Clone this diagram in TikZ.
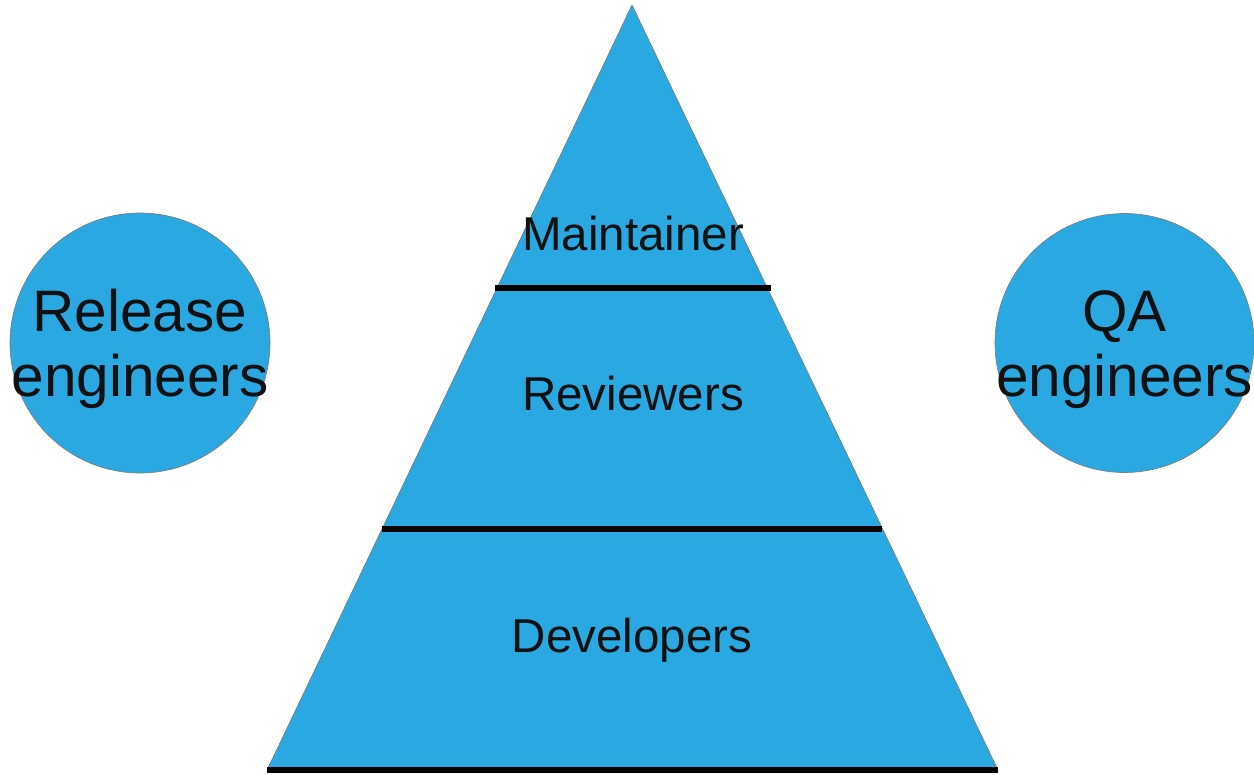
\documentclass[tikz,border=0pt]{standalone}
\usepackage{fontspec}
\setmainfont{Liberation Sans}
\definecolor{tribl}{HTML}{29A8E2}
\definecolor{txt}{HTML}{111111}
\definecolor{edge}{HTML}{7A7A7A}
\begin{document}
\begin{tikzpicture}[x=1pt,y=-1pt,
  shapefill/.style={fill=tribl,draw=edge,line width=0.6pt},
  tierline/.style={line width=6pt,black},
  tier/.style={anchor=base,inner sep=0pt,text=txt,font=\fontsize{47.5}{56}\selectfont},
  role/.style={anchor=base,inner sep=0pt,text=txt,font=\fontsize{58.5}{61}\selectfont}]
\useasboundingbox (0,0) rectangle (1254,775);
\coordinate (apex) at (632,5);
\coordinate (bl) at (268,768);
\coordinate (br) at (997,768);
\draw[shapefill] (apex) -- (br) -- (bl) -- cycle;
\coordinate (l1a) at (495,288); \coordinate (l1b) at (771,288);
\coordinate (l2a) at (382,529); \coordinate (l2b) at (882,529);
\coordinate (l3a) at (267,770); \coordinate (l3b) at (998,770);
\draw[tierline] (l1a) -- (l1b);
\draw[tierline] (l2a) -- (l2b);
\draw[tierline] (l3a) -- (l3b);
\node[tier] (maint) at (633,251) {Maintainer};
\node[tier] (rev) at (633,411) {Reviewers};
\node[tier] (dev) at (632,652) {Developers};
\draw[shapefill] (140,343) circle (130);
\draw[shapefill] (1124.5,343) circle (129.5);
\node[role] (rel1) at (140,332) {Release};
\node[role] (rel2) at (140,397) {engineers};
\node[role] (qa1) at (1124.5,332) {QA};
\node[role] (qa2) at (1124.5,397) {engineers};
\end{tikzpicture}
\end{document}
